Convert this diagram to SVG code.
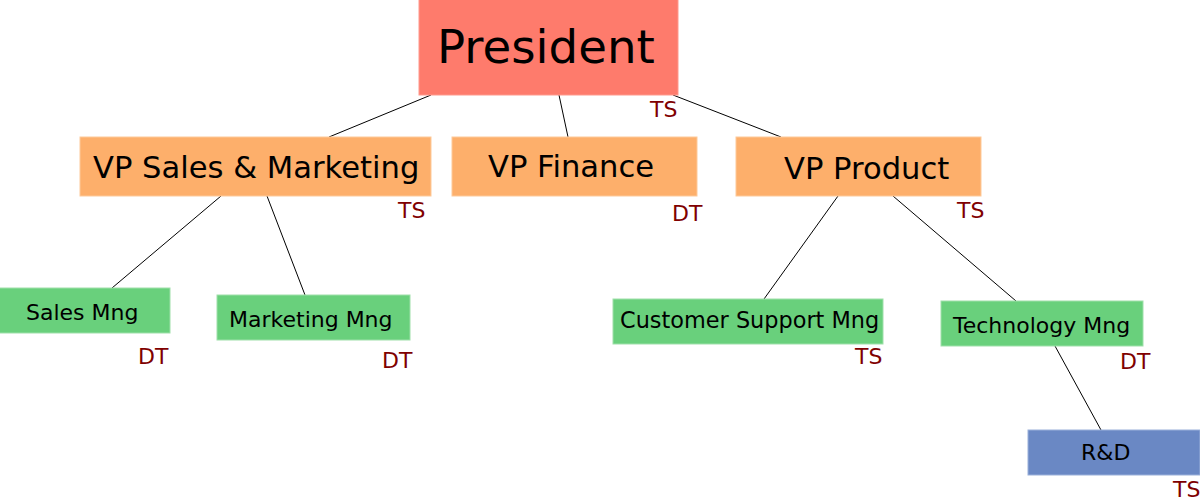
<svg xmlns="http://www.w3.org/2000/svg" width="1200" height="500" viewBox="0 0 1200 500">
<style>
.box{stroke-width:1}
.pres{fill:#fe7b6c;stroke:#ff9a8d}
.vp{fill:#fdaf6b;stroke:#fdc99a}
.mng{fill:#69d07c;stroke:#9fe0aa}
.rd{fill:#6a88c4;stroke:#9ab0da}
text{font-family:"DejaVu Sans",sans-serif;fill:#000}
.t22{font-size:22px}
.vpt{font-size:30.6px}
.lbl{font-size:22px;fill:#800000}
.conn line{stroke:#000;stroke-width:1}
</style>
<rect width="1200" height="500" fill="#fff"/>
<g class="conn">
<line x1="431" y1="95" x2="329" y2="137"/>
<line x1="559" y1="95" x2="568" y2="137"/>
<line x1="673" y1="95" x2="781" y2="137"/>
<line x1="221" y1="196" x2="112" y2="288"/>
<line x1="267" y1="196" x2="305" y2="295"/>
<line x1="838" y1="196" x2="764" y2="299"/>
<line x1="893" y1="196" x2="1016" y2="301"/>
<line x1="1055" y1="346" x2="1101" y2="430"/>
</g>
<g id="president">
<rect class="box pres" x="419" y="-1" width="259" height="96"/>
<text x="437" y="63" font-size="46.7">President</text>
<text class="lbl" x="650" y="117">TS</text>
</g>
<g id="vp-sales">
<rect class="box vp" x="80" y="137" width="351" height="59"/>
<text class="vpt" x="93" y="178">VP Sales &amp; Marketing</text>
<text class="lbl" x="398" y="218">TS</text>
</g>
<g id="vp-finance">
<rect class="box vp" x="452" y="137" width="245" height="59"/>
<text class="vpt" x="488" y="177">VP Finance</text>
<text class="lbl" x="672" y="221">DT</text>
</g>
<g id="vp-product">
<rect class="box vp" x="736" y="137" width="245" height="59"/>
<text class="vpt" x="784" y="179">VP Product</text>
<text class="lbl" x="957" y="218">TS</text>
</g>
<g id="sales-mng">
<rect class="box mng" x="-1" y="288" width="171" height="45"/>
<text class="t22" x="26" y="320">Sales Mng</text>
<text class="lbl" x="138" y="364">DT</text>
</g>
<g id="marketing-mng">
<rect class="box mng" x="217" y="295" width="193" height="45"/>
<text class="t22" x="229" y="327">Marketing Mng</text>
<text class="lbl" x="382" y="368">DT</text>
</g>
<g id="customer-support-mng">
<rect class="box mng" x="613" y="299" width="270" height="45"/>
<text x="620" y="328" font-size="22.4">Customer Support Mng</text>
<text class="lbl" x="855" y="364">TS</text>
</g>
<g id="technology-mng">
<rect class="box mng" x="941" y="301" width="202" height="45"/>
<text class="t22" x="953" y="333">Technology Mng</text>
<text class="lbl" x="1120" y="369">DT</text>
</g>
<g id="rd">
<rect class="box rd" x="1028" y="430" width="172" height="45"/>
<text class="t22" x="1081" y="460">R&amp;D</text>
<text class="lbl" x="1173" y="497">TS</text>
</g>
</svg>
